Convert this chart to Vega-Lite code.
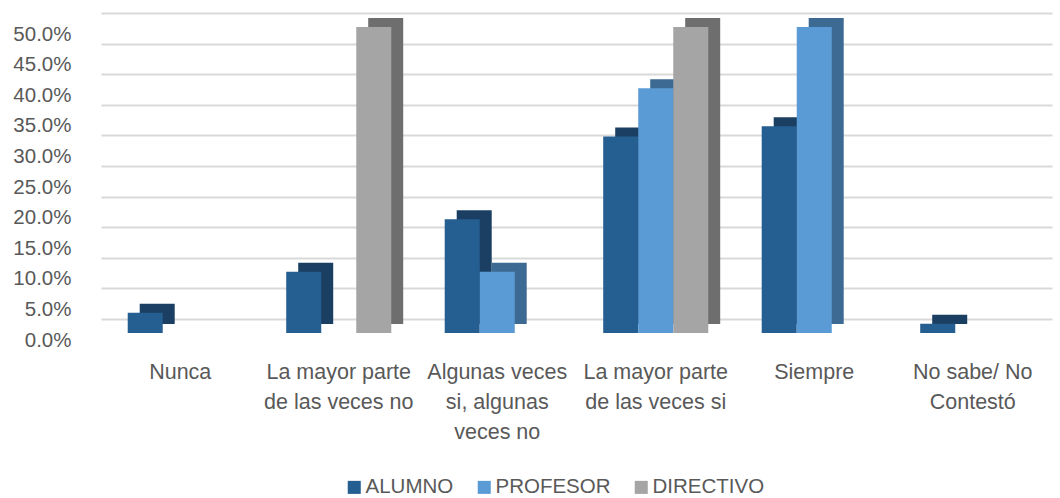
{
  "$schema": "https://vega.github.io/schema/vega-lite/v6.json",
  "autosize": {"type": "none"},
  "padding": {"left": 101, "top": 27, "right": 8, "bottom": 165},
  "width": 951,
  "height": 306,
  "background": "white",
  "config": {"view": {"stroke": null}},
  "data": {
    "values": [
      {"categoria": "Nunca", "grupo": "ALUMNO", "valor": 0.033},
      {"categoria": "Nunca", "grupo": "PROFESOR", "valor": 0},
      {"categoria": "Nunca", "grupo": "DIRECTIVO", "valor": 0},
      {"categoria": "La mayor parte de las veces no", "grupo": "ALUMNO", "valor": 0.10},
      {"categoria": "La mayor parte de las veces no", "grupo": "PROFESOR", "valor": 0},
      {"categoria": "La mayor parte de las veces no", "grupo": "DIRECTIVO", "valor": 0.50},
      {"categoria": "Algunas veces si, algunas veces no", "grupo": "ALUMNO", "valor": 0.186},
      {"categoria": "Algunas veces si, algunas veces no", "grupo": "PROFESOR", "valor": 0.10},
      {"categoria": "Algunas veces si, algunas veces no", "grupo": "DIRECTIVO", "valor": 0},
      {"categoria": "La mayor parte de las veces si", "grupo": "ALUMNO", "valor": 0.321},
      {"categoria": "La mayor parte de las veces si", "grupo": "PROFESOR", "valor": 0.40},
      {"categoria": "La mayor parte de las veces si", "grupo": "DIRECTIVO", "valor": 0.50},
      {"categoria": "Siempre", "grupo": "ALUMNO", "valor": 0.338},
      {"categoria": "Siempre", "grupo": "PROFESOR", "valor": 0.50},
      {"categoria": "Siempre", "grupo": "DIRECTIVO", "valor": 0},
      {"categoria": "No sabe/ No Contestó", "grupo": "ALUMNO", "valor": 0.015},
      {"categoria": "No sabe/ No Contestó", "grupo": "PROFESOR", "valor": 0},
      {"categoria": "No sabe/ No Contestó", "grupo": "DIRECTIVO", "valor": 0}
    ]
  },
  "encoding": {
    "x": {
      "field": "categoria",
      "type": "nominal",
      "sort": null,
      "title": null,
      "scale": {"paddingInner": 0.337, "paddingOuter": 0.1685},
      "axis": {
        "domain": false,
        "ticks": false,
        "labelAngle": 0,
        "labelFont": "Liberation Sans",
        "labelFontSize": 21.5,
        "labelColor": "#595959",
        "labelPadding": 28,
        "labelBaseline": "top",
        "labelLineHeight": 30,
        "labelLimit": 0,
        "labelExpr": "datum.label == 'La mayor parte de las veces no' ? ['La mayor parte', 'de las veces no'] : datum.label == 'Algunas veces si, algunas veces no' ? ['Algunas veces', 'si, algunas', 'veces no'] : datum.label == 'La mayor parte de las veces si' ? ['La mayor parte', 'de las veces si'] : datum.label == 'No sabe/ No Contestó' ? ['No sabe/ No', 'Contestó'] : datum.label"
      }
    },
    "y": {
      "field": "valor",
      "type": "quantitative",
      "title": null,
      "scale": {"domain": [0, 0.5], "nice": false},
      "axis": {
        "values": [0, 0.05, 0.1, 0.15, 0.2, 0.25, 0.3, 0.35, 0.4, 0.45, 0.5],
        "format": ".1%",
        "domain": false,
        "ticks": false,
        "grid": true,
        "gridColor": "#D9D9D9",
        "gridWidth": 2,
        "tickOffset": -14,
        "labelOffset": 21,
        "labelFont": "Liberation Sans",
        "labelFontSize": 20.5,
        "labelColor": "#595959",
        "labelPadding": 30
      }
    }
  },
  "layer": [
    {
      "mark": {"type": "bar", "yOffset": -9},
      "encoding": {
        "xOffset": {
          "field": "grupo",
          "type": "nominal",
          "sort": ["ALUMNO", "PROFESOR", "DIRECTIVO"],
          "scale": {"domain": ["ALUMNO", "PROFESOR", "DIRECTIVO"], "paddingInner": 0, "paddingOuter": 0, "range": [12, 117]}
        },
        "color": {
          "field": "grupo",
          "type": "nominal",
          "scale": {"domain": ["ALUMNO", "PROFESOR", "DIRECTIVO"], "range": ["#1B3F62", "#3D6A93", "#6E6E6E"]},
          "legend": null
        }
      }
    },
    {
      "mark": {"type": "bar"},
      "encoding": {
        "xOffset": {
          "field": "grupo",
          "type": "nominal",
          "sort": ["ALUMNO", "PROFESOR", "DIRECTIVO"],
          "scale": {"domain": ["ALUMNO", "PROFESOR", "DIRECTIVO"], "paddingInner": 0, "paddingOuter": 0}
        },
        "color": {
          "field": "grupo",
          "type": "nominal",
          "sort": ["ALUMNO", "PROFESOR", "DIRECTIVO"],
          "scale": {"domain": ["ALUMNO", "PROFESOR", "DIRECTIVO"], "range": ["#255E91", "#5B9BD5", "#A5A5A5"]},
          "legend": {
            "title": null,
            "orient": "none",
            "legendX": 243,
            "legendY": 450,
            "direction": "horizontal",
            "symbolType": "square",
            "symbolSize": 170,
            "symbolStrokeWidth": 0,
            "labelFont": "Liberation Sans",
            "labelFontSize": 20.5,
            "labelColor": "#595959",
            "labelOffset": 1,
            "columnPadding": 20
          }
        }
      }
    }
  ],
  "resolve": {"scale": {"color": "independent", "xOffset": "independent"}}
}
